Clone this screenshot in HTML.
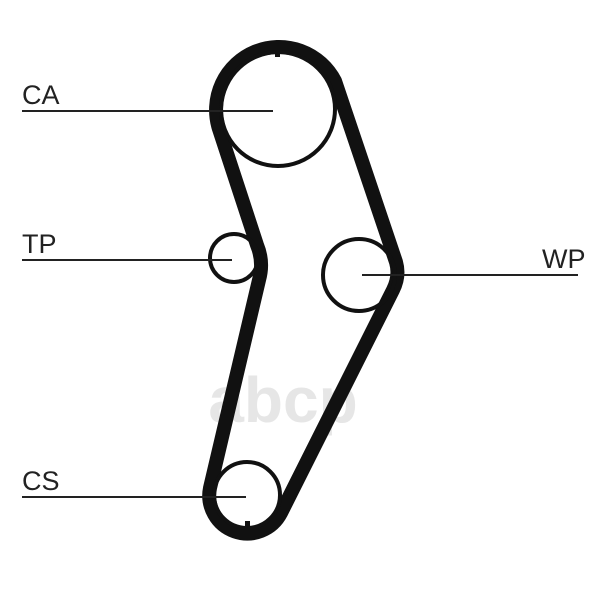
<!DOCTYPE html>
<html><head><meta charset="utf-8"><style>
html,body{margin:0;padding:0;background:#fff;}
svg{display:block;}
text{font-family:"Liberation Sans",sans-serif;font-size:27px;fill:#222;}
</style></head><body>
<svg width="600" height="600" viewBox="0 0 600 600">
<text x="283" y="422" style="font-size:64px;fill:#e6e6e6;font-weight:bold" text-anchor="middle">abcp</text>
<path d="M 219,129 A 63 63 0 0 1 335,81 L 396,262 Q 400,276 393,290 L 281,513 A 38 38 0 0 1 210,488 L 259,280 Q 264,262 257,245 Z" fill="none" stroke="#111" stroke-width="14" stroke-linejoin="round"/>
<circle cx="278" cy="109" r="57" fill="none" stroke="#111" stroke-width="4"/>
<circle cx="234" cy="258" r="24" fill="none" stroke="#111" stroke-width="4"/>
<circle cx="359" cy="275" r="36" fill="none" stroke="#111" stroke-width="4"/>
<circle cx="247" cy="495" r="33" fill="none" stroke="#111" stroke-width="4"/>
<rect x="275" y="45" width="5" height="12" fill="#111"/>
<rect x="245" y="521" width="5" height="10" fill="#111"/>
<g stroke="#222" stroke-width="2">
<line x1="22" y1="111" x2="273" y2="111"/>
<line x1="22" y1="260" x2="232" y2="260"/>
<line x1="362" y1="275" x2="578" y2="275"/>
<line x1="22" y1="497" x2="246" y2="497"/>
</g>
<text x="22" y="104">CA</text>
<text x="22" y="253">TP</text>
<text x="542" y="268">WP</text>
<text x="22" y="490">CS</text>
</svg>
</body></html>
